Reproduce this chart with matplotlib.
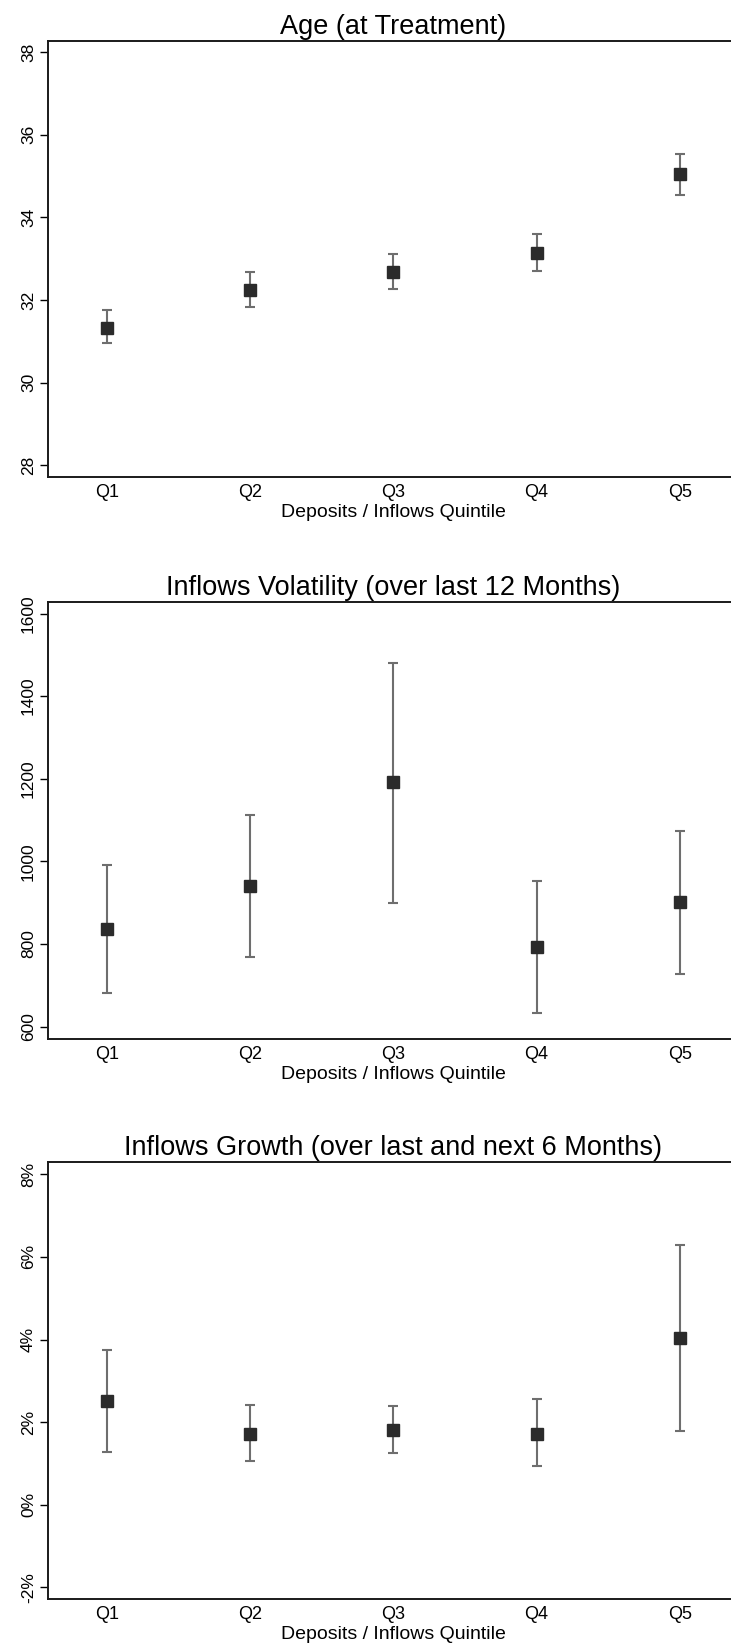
import numpy as np
import matplotlib
matplotlib.use("Agg")
import matplotlib.pyplot as plt
from matplotlib.ticker import FuncFormatter

plt.rcParams['font.family'] = ['Liberation Sans', 'DejaVu Sans']

quintiles = ['Q1', 'Q2', 'Q3', 'Q4', 'Q5']

age_mean = [31.33, 32.25, 32.69, 33.15, 35.05]
age_lo = [30.95, 31.83, 32.26, 32.71, 34.55]
age_hi = [31.76, 32.67, 33.12, 33.59, 35.54]

vol_mean = [836, 941, 1191, 792, 901]
vol_lo = [682, 769, 900, 632, 728]
vol_hi = [991, 1113, 1481, 953, 1074]

growth_mean = [2.50, 1.72, 1.80, 1.72, 4.03]
growth_lo = [1.27, 1.06, 1.25, 0.93, 1.78]
growth_hi = [3.74, 2.42, 2.39, 2.55, 6.29]

titles = ['Age (at Treatment)',
          'Inflows Volatility (over last 12 Months)',
          'Inflows Growth (over last and next 6 Months)']
xlabel = 'Deposits / Inflows Quintile'

panels = [
    (age_mean, age_lo, age_hi, (27.71, 38.28), np.arange(28, 39, 2), None),
    (vol_mean, vol_lo, vol_hi, (570, 1627), np.arange(600, 1601, 200), None),
    (growth_mean, growth_lo, growth_hi, (-2.28, 8.29), np.arange(-2, 9, 2),
     FuncFormatter(lambda v, p: f"{v:.0f}%")),
]

fig = plt.figure(figsize=(7.31, 16.44), dpi=100)
bottoms = [0.7097, 0.368, 0.0274]
x = np.arange(1, 6)

for (mean, lo, hi, ylim, yticks, fmt), title, b in zip(panels, titles, bottoms):
    ax = fig.add_axes([0.065, b, 0.9453, 0.2656])
    mean = np.array(mean)
    yerr = [mean - np.array(lo), np.array(hi) - mean]
    ax.errorbar(x, mean, yerr=yerr, fmt='s', color='#2b2b2b', ms=8,
                mec='#2b2b2b', ecolor='#6e6e6e', elinewidth=1.5,
                capsize=3.6, capthick=1.5)
    ax.set_xlim(0.585, 5.41)
    ax.set_ylim(*ylim)
    ax.set_xticks(x)
    ax.set_xticklabels(quintiles)
    ax.set_yticks(yticks)
    if fmt is not None:
        ax.yaxis.set_major_formatter(fmt)
    for lbl in ax.get_yticklabels():
        lbl.set_rotation(90)
        lbl.set_va('center')
    ax.tick_params(axis='x', length=0, pad=5, labelsize=13)
    ax.tick_params(axis='y', length=5.8, width=1, pad=2.5, labelsize=12.5,
                   direction='out')
    for s in ax.spines.values():
        s.set_linewidth(1.4)
        s.set_color('#1a1a1a')
    ax.set_xlabel(xlabel, fontsize=14, labelpad=2)
    ax.set_title(title, fontsize=19.5, pad=5)

fig.savefig('out.png', dpi=100)
